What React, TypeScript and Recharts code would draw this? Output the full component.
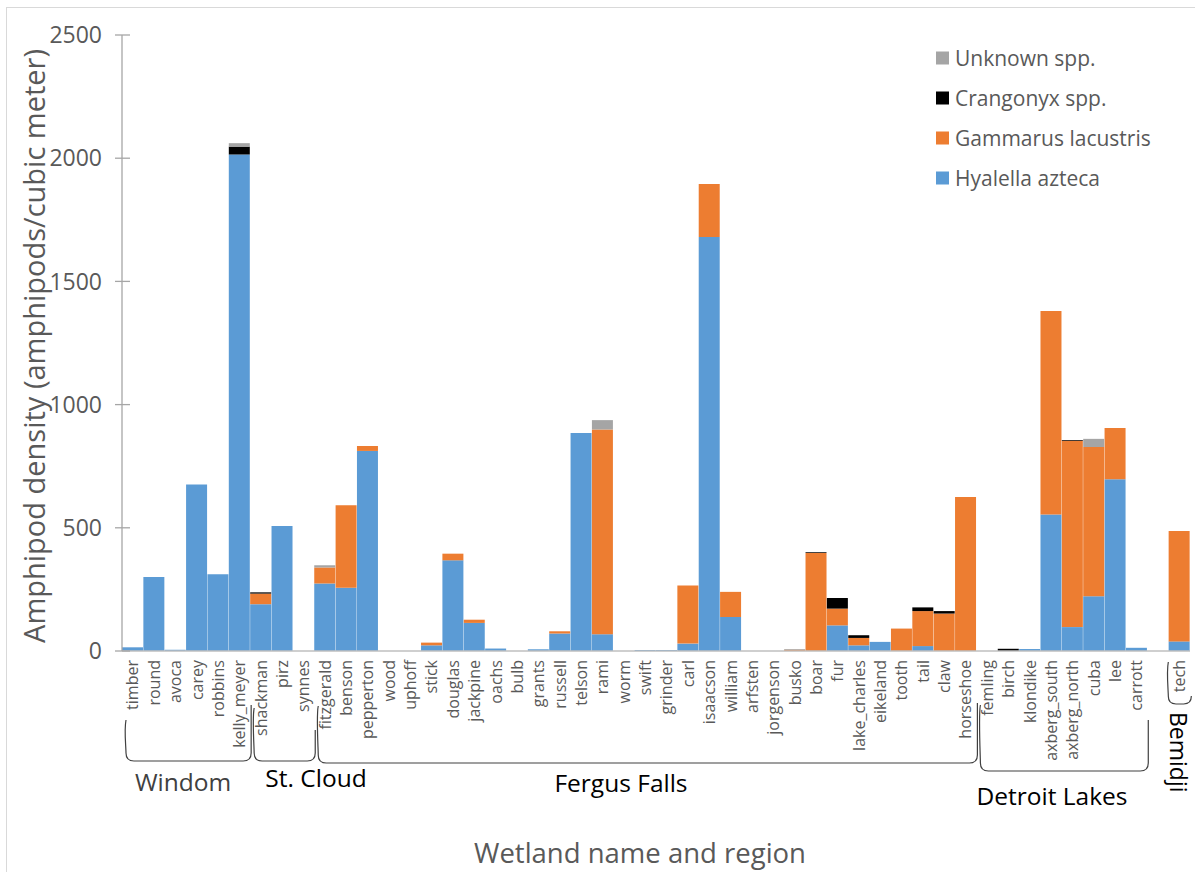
import React from 'react';
import { BarChart, Bar, XAxis, YAxis, Customized } from 'recharts';

// Wetlands in plotting order, grouped by region ('' is the spacer slot before Bemidji)
const wetlands = [
  'timber', 'round', 'avoca', 'carey', 'robbins', 'kelly_meyer',
  'shackman', 'pirz', 'synnes',
  'fitzgerald', 'benson', 'pepperton', 'wood', 'uphoff', 'stick', 'douglas',
  'jackpine', 'oachs', 'bulb', 'grants', 'russell', 'telson', 'rami', 'worm',
  'swift', 'grinder', 'carl', 'isaacson', 'william', 'arfsten', 'jorgenson',
  'busko', 'boar', 'fur', 'lake_charles', 'eikeland', 'tooth', 'tail', 'claw',
  'horseshoe',
  'femling', 'birch', 'klondike', 'axberg_south', 'axberg_north', 'cuba', 'lee',
  'carrott',
  '',
  'tech',
];

// Density (amphipods / cubic meter) per species, same order as wetlands
const hyalellaAzteca = [
  15, 300, 5, 676, 311, 2015,
  190, 507, 0,
  274, 257, 812, 0, 0, 23, 368,
  114, 10, 0, 7, 71, 885, 68, 0,
  4, 4, 30, 1680, 138, 0, 0,
  0, 0, 104, 23, 37, 0, 20, 0,
  0,
  0, 0, 8, 554, 97, 222, 697,
  13,
  0,
  39,
];
const gammarusLacustris = [
  0, 0, 0, 0, 0, 0,
  43, 0, 0,
  65, 335, 20, 0, 0, 11, 27,
  13, 0, 0, 0, 9, 0, 831, 0,
  0, 0, 236, 215, 102, 0, 0,
  5, 398, 68, 30, 0, 91, 142, 152,
  625,
  0, 0, 0, 826, 756, 606, 208,
  0,
  0,
  448,
];
const crangonyxSpp = [
  0, 0, 0, 0, 0, 32,
  5, 0, 0,
  0, 0, 0, 0, 0, 0, 0,
  0, 0, 0, 0, 0, 0, 0, 0,
  0, 0, 0, 0, 0, 0, 0,
  0, 3, 43, 11, 0, 0, 15, 10,
  0,
  0, 9, 0, 0, 3, 0, 0,
  0,
  0,
  0,
];
const unknownSpp = [
  0, 0, 0, 0, 0, 14,
  0, 0, 0,
  9, 0, 0, 0, 0, 0, 0,
  0, 0, 0, 0, 0, 0, 38, 0,
  0, 0, 0, 0, 0, 0, 0,
  3, 0, 0, 0, 0, 0, 0, 0,
  0,
  0, 0, 0, 0, 0, 33, 0,
  0,
  0,
  0,
];

const densityTicks = [0, 500, 1000, 1500, 2000, 2500];

// Regions as inclusive index ranges into the wetland list
const regionNames = ['Windom', 'St. Cloud', 'Fergus Falls', 'Detroit Lakes', 'Bemidji'];
const regionFirst = [0, 6, 9, 40, 49];
const regionLast = [5, 8, 39, 47, 49];

const series = [
  { key: 'hyalella', name: 'Hyalella azteca', color: '#5B9BD5', values: hyalellaAzteca },
  { key: 'gammarus', name: 'Gammarus lacustris', color: '#ED7D31', values: gammarusLacustris },
  { key: 'crangonyx', name: 'Crangonyx spp.', color: '#000000', values: crangonyxSpp },
  { key: 'unknown', name: 'Unknown spp.', color: '#A5A5A5', values: unknownSpp },
];

const data = wetlands.map((wetland, i) => {
  const row: Record<string, string | number> = { wetland: wetland || ' ' };
  series.forEach((s) => { row[s.key] = s.values[i]; });
  return row;
});

// Layout
const W = 1195;
const H = 872;
const Y_AXIS_W = 122;
const MARGIN = { top: 35, right: 5, left: 0, bottom: 0 };
const X_AXIS_H = 221;
const PLOT_LEFT = MARGIN.left + Y_AXIS_W;
const PLOT_RIGHT = W - MARGIN.right;
const BASELINE = H - MARGIN.bottom - X_AXIS_H;
const BAND = (PLOT_RIGHT - PLOT_LEFT) / wetlands.length;

const FONT = '"Open Sans", "Noto Sans", sans-serif';
const GREY_TEXT = '#595959';
const AXIS_GREY = '#A6A6A6';

const CategoryTick = (props: any) => {
  const { x, payload } = props;
  const y0 = BASELINE + 9;
  return (
    <text
      x={x}
      y={y0}
      dy="0.36em"
      transform={`rotate(-90 ${x} ${y0})`}
      textAnchor="end"
      fontSize={16}
      fontFamily={FONT}
      fill={GREY_TEXT}
    >
      {String(payload.value).trim()}
    </text>
  );
};

const DensityTick = (props: any) => {
  const { y, payload } = props;
  return (
    <g>
      <line x1={PLOT_LEFT - 7} x2={PLOT_LEFT + 8} y1={y} y2={y} stroke={AXIS_GREY} strokeWidth={1.3} />
      <text x={PLOT_LEFT - 20} y={y} dy="0.36em" textAnchor="end" fontSize={23} fontFamily={FONT} fill={GREY_TEXT}>
        {payload.value}
      </text>
    </g>
  );
};

// Bracket under a group of category labels
const bracketPath = (x1: number, x2: number, topL: number, topR: number, bottom: number) => {
  const r = Math.min(8, (x2 - x1) / 3);
  return `M ${x1} ${topL} C ${x1 - 2} ${topL + 10}, ${x1} ${bottom - r - 6}, ${x1} ${bottom - r} Q ${x1} ${bottom} ${x1 + r} ${bottom} L ${x2 - r} ${bottom} Q ${x2} ${bottom} ${x2} ${bottom - r} L ${x2} ${topR}`;
};

const bracketTops = [
  [720, 705, 761],
  [708, 730, 761],
  [706, 703, 763],
  [705, 720, 771],
];
const labelCenter = [183, 316, 621, 1052];
const labelBaseline = [791, 787, 792, 805];
const labelColor = ['#404040', '#000000', '#000000', '#000000'];

const Annotations = () => {
  const boundary = (i: number) => PLOT_LEFT + i * BAND;
  const techX = boundary(regionFirst[4]) + BAND / 2;
  return (
    <g fontFamily={FONT}>
      {/* chart area frame */}
      <rect x={6.5} y={7.5} width={W + 40} height={H + 40} fill="none" stroke="#D9D9D9" strokeWidth={1} />

      {/* region brackets and names */}
      {regionNames.slice(0, 4).map((name, g) => {
        const x1 = boundary(regionFirst[g]) + 4;
        const x2 = boundary(regionLast[g] + 1) + 1;
        const [topL, topR, bottom] = bracketTops[g];
        return (
          <g key={name}>
            <path d={bracketPath(x1, x2, topL, topR, bottom)} fill="none" stroke="#404040" strokeWidth={1.2} />
            <text x={labelCenter[g]} y={labelBaseline[g]} textAnchor="middle" fontSize={24.5} fill={labelColor[g]}>
              {name}
            </text>
          </g>
        );
      })}
      <path
        d={bracketPath(techX - 11, techX + 12, 662, 696, 704)}
        fill="none"
        stroke="#404040"
        strokeWidth={1.2}
      />
      <text x={techX - 1} y={712} transform={`rotate(90 ${techX - 1} 712)`} dy="0.36em" fontSize={23} fill="#000000">
        {regionNames[4]}
      </text>

      {/* axis titles */}
      <text x={35} y={346} transform={`rotate(-90 35 346)`} dy="0.36em" textAnchor="middle" fontSize={29} fill={GREY_TEXT}>
        Amphipod density (amphipods/cubic meter)
      </text>
      <text x={640} y={863} textAnchor="middle" fontSize={27.5} fill={GREY_TEXT}>
        Wetland name and region
      </text>

      {/* legend, top series first */}
      {[...series].reverse().map((s, k) => {
        const cy = 58 + k * 40;
        return (
          <g key={s.key}>
            <rect x={936} y={cy - 6.5} width={13} height={13} fill={s.color} />
            <text x={955} y={cy} dy="0.36em" fontSize={21} fill={GREY_TEXT}>
              {s.name}
            </text>
          </g>
        );
      })}
    </g>
  );
};

export default function App() {
  return (
    <div style={{ position: 'absolute', left: 0, top: 0, width: W, height: H, background: '#ffffff' }}>
      <BarChart
        width={W}
        height={H}
        data={data}
        margin={MARGIN}
        barCategoryGap={0}
        barGap={0}
      >
        <XAxis
          dataKey="wetland"
          interval={0}
          height={X_AXIS_H}
          tick={CategoryTick}
          tickLine={false}
          axisLine={{ stroke: '#BFBFBF', strokeWidth: 1.3 }}
        />
        <YAxis
          width={Y_AXIS_W}
          domain={[0, 2500]}
          ticks={densityTicks}
          tick={DensityTick}
          tickLine={false}
          axisLine={{ stroke: AXIS_GREY, strokeWidth: 1.3 }}
        />
        {series.map((s) => (
          <Bar key={s.key} dataKey={s.key} name={s.name} stackId="density" fill={s.color} isAnimationActive={false} />
        ))}
        <Customized component={Annotations} />
      </BarChart>
    </div>
  );
}
